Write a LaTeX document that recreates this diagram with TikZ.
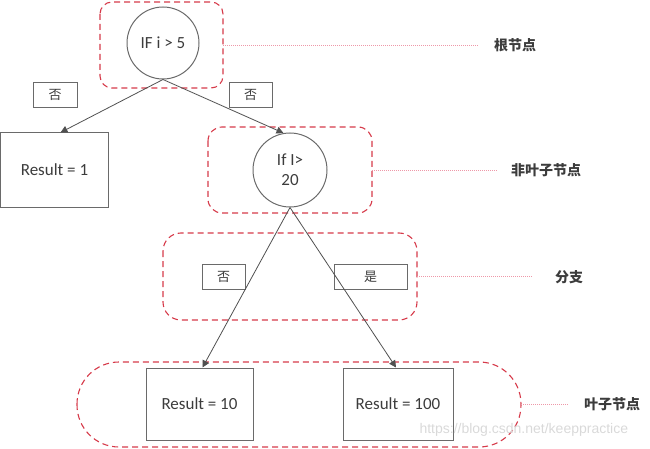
\documentclass[tikz,border=0pt]{standalone}
\usepackage{fontspec}
\setmainfont{Carlito}
\newfontfamily\cjk{Noto Sans CJK SC}
\newfontfamily\wmfont{Liberation Sans}
\usetikzlibrary{arrows.meta,calc}
\definecolor{boxgray}{HTML}{6A6A6A}
\definecolor{linegray}{HTML}{505050}
\definecolor{txtgray}{HTML}{3C3C3C}
\definecolor{dashred}{HTML}{D63A4A}
\definecolor{dotpink}{HTML}{EE98A8}
\tikzset{
  treecircle/.style={draw=boxgray, line width=1pt, circle, inner sep=0pt, text=txtgray, font=\fontsize{17}{20}\selectfont, align=center},
  resbox/.style={draw=boxgray, line width=1pt, rectangle, inner sep=0pt, text=txtgray, font=\fontsize{17}{20}\selectfont},
  lblbox/.style={draw=boxgray, line width=1pt, rectangle, inner sep=0pt, minimum height=25pt, text=txtgray, font=\cjk\fontsize{13}{15}\selectfont},
  groupbox/.style={draw=dashred, line width=1.1pt, dash pattern=on 6pt off 4pt},
  sidelink/.style={draw=dotpink, line width=0.7pt, dash pattern=on 1pt off 1pt},
  sidelbl/.style={text=txtgray, font=\cjk\bfseries\fontsize{14}{16}\selectfont},
  edge/.style={draw=linegray, line width=0.8pt, -{Triangle[width=7pt,length=7pt]}},
}
\begin{document}
\begin{tikzpicture}[x=1pt,y=-1pt]
\useasboundingbox (0,0) rectangle (650,449);
% group boxes
\draw[groupbox, rounded corners=12pt] (100,2) rectangle (223,88);
\draw[groupbox, rounded corners=14pt] (208,127) rectangle (372,213);
\draw[groupbox, rounded corners=18pt] (163,233) rectangle (417,320);
\draw[groupbox, rounded corners=42pt] (77,362) rectangle (521,447);
\coordinate (g1e) at (223,45);
\coordinate (g2e) at (372,170);
\coordinate (g3e) at (417,276);
\coordinate (g4e) at (521,404);
\coordinate (l1e) at (478,45);
\coordinate (l2e) at (497,170);
\coordinate (l3e) at (533,276);
\coordinate (l4e) at (568,404);
% tree nodes
\node[treecircle, minimum size=72pt] (c1) at (163,43) {IF i {\textgreater} 5};
\node[treecircle, minimum size=74pt] (c2) at (290,170) {If I\textgreater\\20};
\node[resbox, minimum width=108pt, minimum height=74pt] (r1) at (54.5,170) {Result = 1};
\node[resbox, minimum width=107pt, minimum height=72pt] (r10) at (199.5,404) {Result = 10};
\node[resbox, minimum width=110pt, minimum height=72pt] (r100) at (398,404) {Result = 100};
% branch labels
\node[lblbox, minimum width=44pt] (n1) at (55,95) {否};
\node[lblbox, minimum width=43pt] (n2) at (250.5,95) {否};
\node[lblbox, minimum width=43pt] (n3) at (223.5,276.5) {否};
\node[lblbox, minimum width=73pt] (n4) at (370.5,276.5) {是};
% edges
\draw[edge] (c1.south) -- ($(r1.north)+(6,0)$);
\draw[edge] (c1.south) -- (c2.100);
\draw[edge] (c2.south) -- ($(r10.north)+(3,0)$);
\draw[edge] (c2.south) -- ($(r100.north)+(-2,0)$);
% side labels
\draw[sidelink] (g1e) -- (l1e);
\draw[sidelink] (g2e) -- (l2e);
\draw[sidelink] (g3e) -- (l3e);
\draw[sidelink] (g4e) -- (l4e);
\node[sidelbl] (s1) at (515,45) {根节点};
\node[sidelbl] (s2) at (546,170) {非叶子节点};
\node[sidelbl] (s3) at (569,277) {分支};
\node[sidelbl] (s4) at (612,404) {叶子节点};
% watermark
\node[text=gray!30, font=\wmfont\fontsize{14}{16}\selectfont, anchor=west] (wm) at (416,430) {https://blog.csdn.net/keeppractice};
\end{tikzpicture}
\end{document}
